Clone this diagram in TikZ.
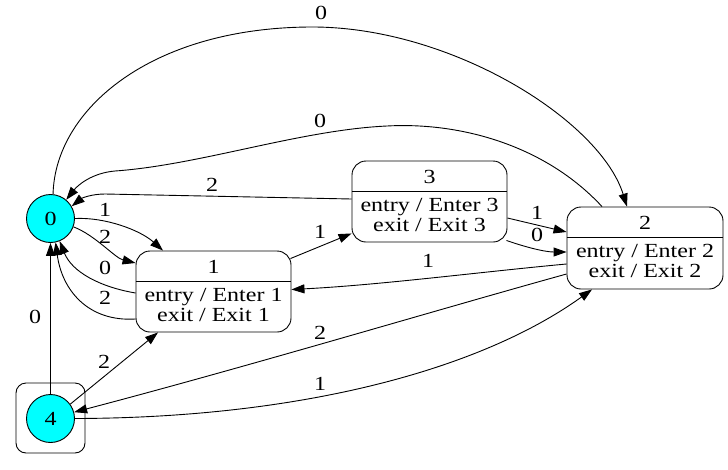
\documentclass[tikz,border=0pt]{standalone}
\usepackage{fontspec}
\setmainfont[FakeStretch=1.2]{Liberation Serif}
\usetikzlibrary{arrows.meta}

\definecolor{aqua}{RGB}{0,255,255}

\tikzset{
    state/.style={draw, line width=0.9pt, rounded corners=14pt, minimum width=155pt, minimum height=81pt, inner sep=0pt},
    init/.style={draw, line width=0.9pt, circle, fill=aqua, minimum size=48pt, inner sep=0pt},
    edge/.style={-{Triangle[length=13pt,width=9pt]}, line width=0.9pt},
    lbl/.style={inner sep=0pt},
}

\begin{document}
\begin{tikzpicture}[x=1pt, y=-1pt, font=\fontsize{20}{20}\selectfont]
    \useasboundingbox (0,0) rectangle (728,469);

    \node[draw, line width=0.9pt, rounded corners=10pt, minimum width=69pt, minimum height=70pt] (b4) at (50.5,418) {};
    \node[init] (n0) at (50.5,218.5) {0};
    \node[init] (n4) at (50.5,418.5) {4};
    \node[state] (s1) at (213.5,291.5) {};
    \node[state] (s3) at (429.5,201.5) {};
    \node[state, minimum width=156pt, minimum height=82pt] (s2) at (645,248) {};

    \foreach \s/\n in {s1/1, s2/2, s3/3} {
        \node (h\n) at ([yshift=-16pt]\s.north) {\n};
        \node[align=center] (t\n) at ([yshift=-54.5pt]\s.north) {entry / Enter \n\\exit / Exit \n};
        \draw[line width=0.9pt] ([yshift=-31pt]\s.north west) -- ([yshift=-31pt]\s.north east);
    }

    \draw[edge] (n0.84) .. controls (55,110) and (150,28) .. (310,27) .. controls (450,26) and (600,120) .. ([xshift=-18pt]s2.north);
    \draw[edge] ([xshift=-43pt]s2.north) .. controls (545,145) and (460,122) .. (387,126) .. controls (300,130) and (200,165) .. (115,171) .. controls (92,173) and (78,185) .. (n0.50);
    \draw[edge] ([yshift=2.5pt]s3.west) -- (105,194) .. controls (92,194) and (82,198) .. (n0.30);
    \draw[edge] (n0.0) .. controls (105,217) and (140,230) .. ([xshift=-50.5pt]s1.north);
    \draw[edge] (n0.-20) .. controls (95,235) and (115,258) .. ([yshift=28.5pt]s1.west);
    \draw[edge] ([yshift=-1.5pt]s1.west) .. controls (100,287) and (72,272) .. (n0.-68);
    \draw[edge] ([yshift=-27.5pt]s1.west) .. controls (88,322) and (62,290) .. (n0.-78);
    \draw[edge] (n4.north) -- (n0.south);
    \draw[edge] (n4.36) -- ([xshift=-55.5pt]s1.south);
    \draw[edge] ([yshift=-26pt]s2.west) .. controls (440,309) and (250,366) .. (n4.15);
    \draw[edge] (n4.0) .. controls (300,418) and (480,370) .. ([xshift=-53pt]s2.south);
    \draw[edge] ([yshift=-16pt]s2.west) .. controls (480,272) and (380,285) .. ([yshift=2pt]s1.east);
    \draw[edge] ([xshift=-1pt,yshift=-8pt]s1.north east) -- ([yshift=9pt]s3.south west);
    \draw[edge] ([yshift=-16.5pt]s3.east) -- ([yshift=16pt]s2.west);
    \draw[edge] ([xshift=-1pt,yshift=2pt]s3.south east) .. controls (525,247) and (545,252) .. ([yshift=-4pt]s2.west);

    \node[lbl] (l02a) at (321,13) {0};
    \node[lbl] (l20) at (320,121) {0};
    \node[lbl] (l30) at (212,185) {2};
    \node[lbl] (l01a) at (105,210) {1};
    \node[lbl] (l01b) at (105,237) {2};
    \node[lbl] (l10a) at (105,268) {0};
    \node[lbl] (l10b) at (105,298) {2};
    \node[lbl] (l40) at (35,317) {0};
    \node[lbl] (l41) at (104,362) {2};
    \node[lbl] (l24) at (320,333) {2};
    \node[lbl] (l42) at (320,384) {1};
    \node[lbl] (l21) at (428,261) {1};
    \node[lbl] (l13) at (320,232) {1};
    \node[lbl] (l32a) at (537,213) {1};
    \node[lbl] (l32b) at (537,235) {0};
\end{tikzpicture}
\end{document}
